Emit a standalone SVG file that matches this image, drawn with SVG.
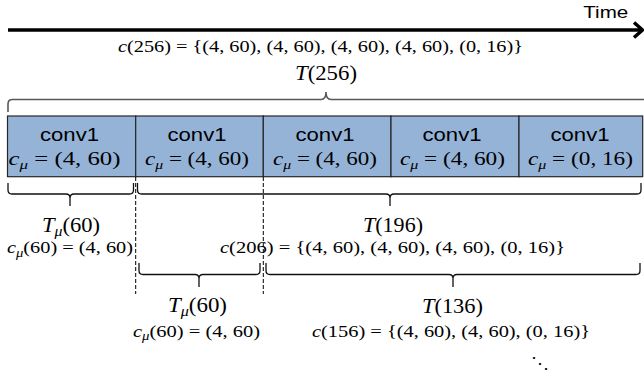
<svg xmlns="http://www.w3.org/2000/svg" width="644" height="374" viewBox="0 0 644 374">
<style>
.box{fill:#95b3d7;stroke:#262626;stroke-width:1.2}
.lbl{font-family:"Liberation Sans",Arial,sans-serif;font-size:19px;fill:#000}
.m{font-family:"Liberation Serif","Times New Roman",serif;fill:#000}
.m16{font-size:16px}
.m19{font-size:19px}
.m20{font-size:20px}
.i{font-style:italic}
.brace{fill:none;stroke:#111;stroke-width:1.3}
.tbrace{fill:none;stroke:#595959;stroke-width:1.6}
.dash{stroke:#000;stroke-width:1;stroke-dasharray:4 2}
</style>
<rect width="644" height="374" fill="#fff"/>
<g id="time-axis">
<line x1="8" y1="30" x2="641" y2="30" stroke="#000" stroke-width="3.5"/>
<polyline points="634,22.5 642.5,30 634,37.5" fill="none" stroke="#000" stroke-width="3.5" stroke-linejoin="miter"/>
<text class="lbl" x="583.3" y="17.5" font-size="17" textLength="45" lengthAdjust="spacingAndGlyphs" style="font-size:17px">Time</text>
</g>
<g id="total-label">
<text class="m m16" x="118" y="51.5" textLength="405" lengthAdjust="spacingAndGlyphs"><tspan class="i">c</tspan>(256) = {(4, 60), (4, 60), (4, 60), (4, 60), (0, 16)}</text>
<text class="m m20" x="295" y="79.5" textLength="62" lengthAdjust="spacingAndGlyphs"><tspan class="i">T</tspan>(256)</text>
</g>
<g id="node1">
<rect class="box" x="7.5" y="116" width="128.2" height="60.7"/>
<text class="lbl" x="69.5" y="140.7" text-anchor="middle" textLength="59" lengthAdjust="spacingAndGlyphs">conv1</text>
<text class="m m19" x="8.5" y="165" textLength="112" lengthAdjust="spacingAndGlyphs"><tspan class="i">c</tspan><tspan class="i" font-size="13" dy="4">μ</tspan><tspan dy="-4"> = (4, 60)</tspan></text>
</g>
<g id="node2">
<rect class="box" x="135.7" y="116" width="127.6" height="60.7"/>
<text class="lbl" x="197" y="140.7" text-anchor="middle" textLength="59" lengthAdjust="spacingAndGlyphs">conv1</text>
<text class="m m19" x="145" y="165" textLength="104" lengthAdjust="spacingAndGlyphs"><tspan class="i">c</tspan><tspan class="i" font-size="13" dy="4">μ</tspan><tspan dy="-4"> = (4, 60)</tspan></text>
</g>
<g id="node3">
<rect class="box" x="263.3" y="116" width="127.7" height="60.7"/>
<text class="lbl" x="325" y="140.7" text-anchor="middle" textLength="59" lengthAdjust="spacingAndGlyphs">conv1</text>
<text class="m m19" x="273" y="165" textLength="104" lengthAdjust="spacingAndGlyphs"><tspan class="i">c</tspan><tspan class="i" font-size="13" dy="4">μ</tspan><tspan dy="-4"> = (4, 60)</tspan></text>
</g>
<g id="node4">
<rect class="box" x="391" y="116" width="128" height="60.7"/>
<text class="lbl" x="452" y="140.7" text-anchor="middle" textLength="59" lengthAdjust="spacingAndGlyphs">conv1</text>
<text class="m m19" x="400" y="165" textLength="105" lengthAdjust="spacingAndGlyphs"><tspan class="i">c</tspan><tspan class="i" font-size="13" dy="4">μ</tspan><tspan dy="-4"> = (4, 60)</tspan></text>
</g>
<g id="node5">
<rect class="box" x="519" y="116" width="123.7" height="60.7"/>
<text class="lbl" x="580" y="140.7" text-anchor="middle" textLength="59" lengthAdjust="spacingAndGlyphs">conv1</text>
<text class="m m19" x="528" y="165" textLength="105" lengthAdjust="spacingAndGlyphs"><tspan class="i">c</tspan><tspan class="i" font-size="13" dy="4">μ</tspan><tspan dy="-4"> = (0, 16)</tspan></text>
</g>
<g id="connectors">
<path class="tbrace" d="M 8 112 L 8 104 Q 8 99.5 12.5 99.5 L 321 99.5 Q 326 99.5 326 92 Q 326 99.5 331 99.5 L 650 99.5 Q 655 99.5 655 104 L 655 112"/>
<path class="brace" d="M 8 183 L 8 190 Q 8 194 12 194 L 66 194 Q 70 194 70 198 L 70 206 M 70 198 Q 70 194 74 194 L 129.5 194 Q 133.5 194 133.5 190 L 133.5 183"/>
<path class="brace" d="M 137.5 183 L 137.5 190 Q 137.5 194 141.5 194 L 386 194 Q 390 194 390 198 L 390 206 M 390 198 Q 390 194 394 194 L 637 194 Q 641 194 641 190 L 641 183"/>
<path class="brace" d="M 139 263 L 139 270.5 Q 139 274.5 143 274.5 L 195 274.5 Q 199 274.5 199 278.5 L 199 287 M 199 278.5 Q 199 274.5 203 274.5 L 256 274.5 Q 260 274.5 260 270.5 L 260 263"/>
<path class="brace" d="M 266 263 L 266 270.5 Q 266 274.5 270 274.5 L 449 274.5 Q 453 274.5 453 278.5 L 453 287 M 453 278.5 Q 453 274.5 457 274.5 L 636 274.5 Q 640 274.5 640 270.5 L 640 263"/>
<line class="dash" x1="135.7" y1="177" x2="135.7" y2="294"/>
<line class="dash" x1="263.3" y1="177" x2="263.3" y2="294"/>
</g>
<g id="split1">
<text class="m m20" x="42" y="231.5" textLength="58" lengthAdjust="spacingAndGlyphs"><tspan class="i">T</tspan><tspan class="i" font-size="14" dy="4">μ</tspan><tspan dy="-4">(60)</tspan></text>
<text class="m m16" x="7" y="253" textLength="126" lengthAdjust="spacingAndGlyphs"><tspan class="i">c</tspan><tspan class="i" font-size="11.5" dy="3.5">μ</tspan><tspan dy="-3.5">(60) = (4, 60)</tspan></text>
<text class="m m20" x="363" y="231.5" textLength="60" lengthAdjust="spacingAndGlyphs"><tspan class="i">T</tspan>(196)</text>
<text class="m m16" x="220" y="253" textLength="345" lengthAdjust="spacingAndGlyphs"><tspan class="i">c</tspan>(206) = {(4, 60), (4, 60), (4, 60), (0, 16)}</text>
</g>
<g id="split2">
<text class="m m20" x="168" y="312" textLength="59" lengthAdjust="spacingAndGlyphs"><tspan class="i">T</tspan><tspan class="i" font-size="14" dy="4">μ</tspan><tspan dy="-4">(60)</tspan></text>
<text class="m m16" x="133" y="336.5" textLength="127" lengthAdjust="spacingAndGlyphs"><tspan class="i">c</tspan><tspan class="i" font-size="11.5" dy="3.5">μ</tspan><tspan dy="-3.5">(60) = (4, 60)</tspan></text>
<text class="m m20" x="422" y="312.5" textLength="61" lengthAdjust="spacingAndGlyphs"><tspan class="i">T</tspan>(136)</text>
<text class="m m16" x="312" y="336.5" textLength="278" lengthAdjust="spacingAndGlyphs"><tspan class="i">c</tspan>(156) = {(4, 60), (4, 60), (0, 16)}</text>
<text x="531" y="369" style="font-family:'DejaVu Serif','Liberation Serif',serif;font-size:17px" textLength="18" lengthAdjust="spacingAndGlyphs">⋱</text>
</g>
</svg>
